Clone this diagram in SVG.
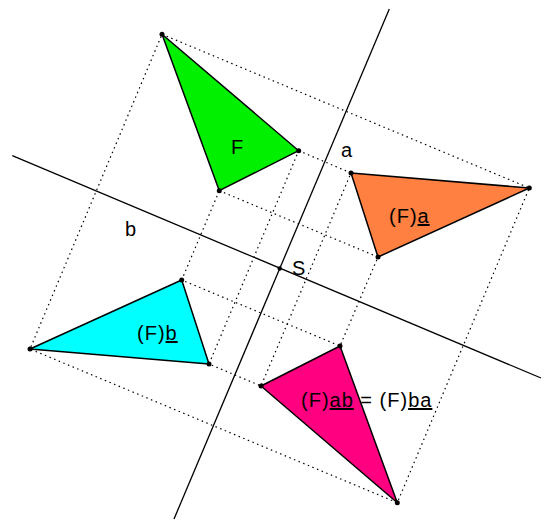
<svg xmlns="http://www.w3.org/2000/svg" width="544" height="524" viewBox="0 0 544 524">
<style>
.axis{stroke:#000;stroke-width:1.3;fill:none}
.dot{stroke:#000;stroke-width:1.2;stroke-dasharray:1.5 3.5;fill:none}
.tri{stroke:#000;stroke-width:1.5;stroke-linejoin:round}
.lbl{font-family:"Liberation Sans",Arial,sans-serif;font-size:20px;fill:#000}
.sp{letter-spacing:1px}
.u{text-decoration:underline}
.v{fill:#000}
</style>
<rect width="544" height="524" fill="#fff"/>
<g id="connectors">
<line class="axis" x1="389.3" y1="9" x2="174" y2="519"/>
<line class="axis" x1="12.3" y1="155.7" x2="541" y2="378"/>
<polygon class="dot" points="162,34.3 529.3,188 397.3,502.7 30,349"/>
<polygon class="dot" points="298.7,150.7 351,173 261,386 209,364"/>
<polygon class="dot" points="219.3,190.7 378,257 340,346 181.7,280"/>
</g>
<g id="F">
<polygon class="tri" fill="#00f000" points="162,34.3 298.7,150.7 219.3,190.7"/>
<text class="lbl" x="231" y="154">F</text>
</g>
<g id="Fa">
<polygon class="tri" fill="#ff8040" points="351,173 529.3,188 378,257"/>
<text class="lbl sp" x="389" y="223">(F)<tspan class="u">a</tspan></text>
</g>
<g id="Fb">
<polygon class="tri" fill="#00ffff" points="181.7,280 30,349 209,364"/>
<text class="lbl sp" x="137" y="340">(F)<tspan class="u">b</tspan></text>
</g>
<g id="Fab">
<polygon class="tri" fill="#ff0080" points="340,346 261,386 397.3,502.7"/>
<text class="lbl sp" x="301" y="407">(F)<tspan class="u">ab</tspan> = (F)<tspan class="u">ba</tspan></text>
</g>
<g id="vertices">
<circle class="v" cx="162" cy="34.3" r="2.5"/>
<circle class="v" cx="298.7" cy="150.7" r="2.5"/>
<circle class="v" cx="219.3" cy="190.7" r="2.5"/>
<circle class="v" cx="351" cy="173" r="2.5"/>
<circle class="v" cx="529.3" cy="188" r="2.5"/>
<circle class="v" cx="378" cy="257" r="2.5"/>
<circle class="v" cx="181.7" cy="280" r="2.5"/>
<circle class="v" cx="30" cy="349" r="2.5"/>
<circle class="v" cx="209" cy="364" r="2.5"/>
<circle class="v" cx="340" cy="346" r="2.5"/>
<circle class="v" cx="261" cy="386" r="2.5"/>
<circle class="v" cx="397.3" cy="502.7" r="2.5"/>
<circle class="v" cx="279.7" cy="268.5" r="2.2"/>
</g>
<g id="labels">
<text class="lbl" x="341" y="157">a</text>
<text class="lbl" x="125" y="236">b</text>
<text class="lbl" x="292" y="275">S</text>
</g>
</svg>
